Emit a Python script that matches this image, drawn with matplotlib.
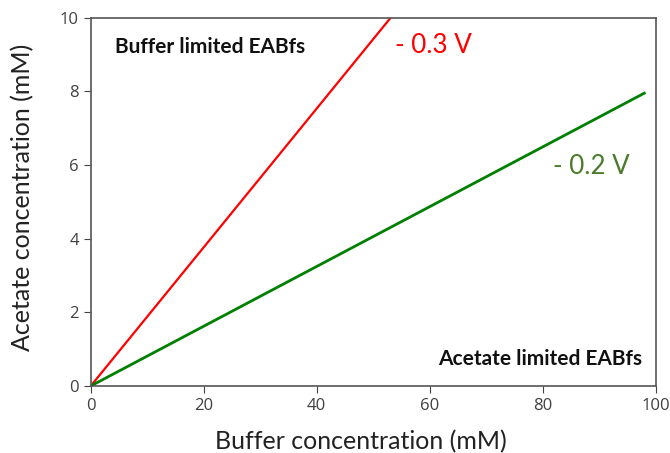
import matplotlib
matplotlib.use("Agg")
import matplotlib.pyplot as plt

# Data
buffer_red = [0, 53.1]
acetate_red = [0, 10.0]
buffer_green = [0, 98]
acetate_green = [0, 7.95]
xticks = [0, 20, 40, 60, 80, 100]
yticks = [0, 2, 4, 6, 8, 10]

fig = plt.figure(figsize=(6.7, 4.53), dpi=100)
ax = fig.add_axes([0.1355, 0.148, 0.843, 0.813])

ax.plot(buffer_red, acetate_red, color="#ff0000", lw=1.6)
ax.plot(buffer_green, acetate_green, color="#008000", lw=2.0)

ax.set_xlim(0, 100)
ax.set_ylim(0, 10)
ax.set_xticks(xticks)
ax.set_yticks(yticks)
ax.tick_params(labelsize=12, labelcolor="#404040", color="#444444", length=5)
for lbl in ax.get_xticklabels() + ax.get_yticklabels():
    lbl.set_family("Open Sans")
for s in ax.spines.values():
    s.set_color("#555555")
    s.set_linewidth(1.2)

lab_font = "Lato"
ax.set_xlabel("Buffer concentration (mM)", fontsize=18, family=lab_font, color="#222222")
ax.xaxis.label.set_va("baseline")
ax.xaxis.set_label_coords(0.479, -0.172)
ax.set_ylabel("Acetate concentration (mM)", fontsize=18, family=lab_font, color="#222222")
ax.yaxis.set_label_coords(-0.1, 0.512)

ax.text(4.3, 9.05, "Buffer limited EABfs", fontsize=15, fontweight="bold", family=lab_font, color="#111111")
ax.text(97.6, 0.57, "Acetate limited EABfs", fontsize=15, fontweight="bold", family=lab_font, color="#111111", ha="right")
ax.text(53.9, 9.05, "- 0.3 V", fontsize=18.7, family=lab_font, color="#ff0000")
ax.text(81.8, 5.75, "- 0.2 V", fontsize=18.7, family=lab_font, color="#4a7a2a")

fig.savefig("out.png", dpi=100)
